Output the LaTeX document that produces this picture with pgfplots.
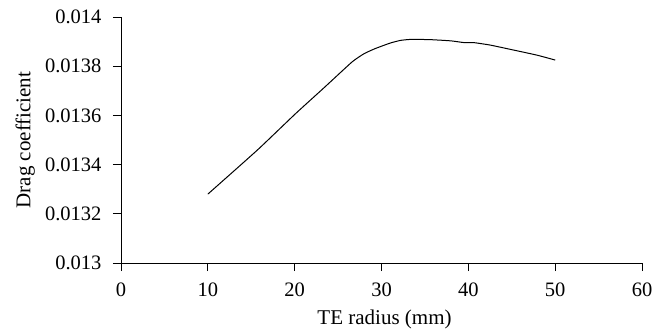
\documentclass[border=0pt]{standalone}
\usepackage{fontspec}
\setmainfont{Liberation Serif}
\usepackage{pgfplots}
\pgfplotsset{compat=1.18}
\begin{document}
\begin{tikzpicture}
\path[use as bounding box] (-121pt,-70pt) rectangle (543pt,263pt);
\begin{axis}[
  at={(0,0)}, anchor=south west,
  scale only axis, width=521pt, height=246pt,
  xmin=0, xmax=60, ymin=0.013, ymax=0.014,
  axis x line*=bottom, axis y line*=left,
  xtick={0,10,20,30,40,50,60},
  ytick={0.013,0.0132,0.0134,0.0136,0.0138,0.014},
  tick align=outside, major tick length=8pt,
  tick style={black, line width=0.9pt},
  axis line style={black, line width=0.9pt},
  scaled y ticks=false,
  yticklabel style={/pgf/number format/fixed, /pgf/number format/precision=4, xshift=-8pt},
  xticklabel style={yshift=-8pt},
  /pgf/number format/assume math mode=true,
  tick label style={font=\fontsize{20.5}{23}\selectfont},
  label style={font=\fontsize{21}{24}\selectfont},
  xlabel={TE radius (mm)},
  ylabel={Drag coefficient},
  xlabel style={at={(axis description cs:0.5,-0.25)}, anchor=base, xshift=3pt},
  ylabel style={at={(axis description cs:-0.184,0.5)}, anchor=center},
]
\addplot[black, line width=1pt, smooth, tension=0.3] coordinates {
(10,0.01328) (15.7,0.013459) (20.1,0.013607) (23.4,0.013713) (26.6,0.013817)
(28.0,0.013851) (29.3,0.013872) (31.0,0.013894) (32.2,0.013905) (33.4,0.013909)
(35.6,0.013908) (38.0,0.013903) (39.5,0.013896) (40.6,0.013896) (42.5,0.013886)
(44.9,0.013868) (47.9,0.013845) (50,0.013825)
};
\end{axis}
\end{tikzpicture}
\end{document}
